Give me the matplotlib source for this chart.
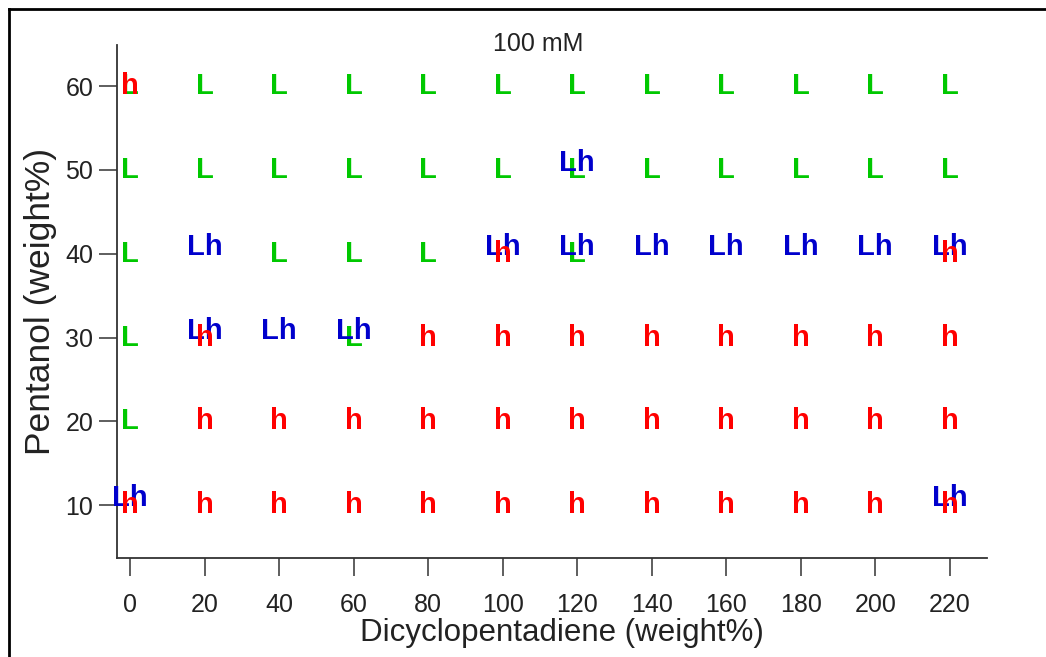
import matplotlib
matplotlib.use("Agg")
import matplotlib.pyplot as plt
from matplotlib.lines import Line2D

# phase map: L (green), h (red), Lh (blue)
x_ticks = [0, 20, 40, 60, 80, 100, 120, 140, 160, 180, 200, 220]
y_ticks = [10, 20, 30, 40, 50, 60]

L_x = x_ticks + x_ticks + [0, 40, 60, 80, 120] + [0, 60] + [0]
L_y = [60] * 12 + [50] * 12 + [40] * 5 + [30] * 2 + [20]

h_x = [0] + [100, 220] + [20, 80, 100, 120, 140, 160, 180, 200, 220] \
    + x_ticks[1:] + x_ticks
h_y = [60] + [40] * 2 + [30] * 9 + [20] * 11 + [10] * 12

Lh_x = [120] + [20, 100, 120, 140, 160, 180, 200, 220] + [20, 40, 60] + [0, 220]
Lh_y = [50] + [40] * 8 + [30] * 3 + [10] * 2

green = "#00c800"
red = "#ff0000"
blue = "#0000cc"

W, H = 1046, 657
fig = plt.figure(figsize=(W / 100, H / 100), dpi=100)
ax = fig.add_axes([117 / W, 1 - 558 / H, (987 - 117) / W, (558 - 45) / H])

mk = dict(fontsize=21, fontweight="bold", family="Liberation Sans",
          ha="center", va="center")
for x, y in zip(L_x, L_y):
  ax.text(x, y, "L", color=green, zorder=3, **mk)
for x, y in zip(Lh_x, Lh_y):
  ax.annotate("Lh", (x, y), xytext=(0, 5), textcoords="offset points",
              color=blue, zorder=4, **mk)
for x, y in zip(h_x, h_y):
  ax.text(x, y, "h", color=red, zorder=5, **mk)

ax.set_xlim(-3.5, 230)
ax.set_ylim(3.7, 64.9)
ax.set_xticks(x_ticks)
ax.set_yticks(y_ticks)

for s in ["top", "right"]:
  ax.spines[s].set_visible(False)
for s in ["left", "bottom"]:
  ax.spines[s].set_color("#333333")
  ax.spines[s].set_linewidth(1.3)

ax.tick_params(direction="out", length=13, width=1.1, color="#333333",
               labelcolor="#222222")
ax.tick_params(axis="x", pad=12)
ax.tick_params(axis="y", pad=4)
for lab in ax.get_xticklabels() + ax.get_yticklabels():
  lab.set_family("Liberation Sans")
  lab.set_fontsize(18)

ax.set_xlabel("Dicyclopentadiene (weight%)", fontsize=22.5,
              family="Liberation Sans", color="#222222")
ax.set_ylabel("Pentanol (weight%)", fontsize=25.5,
              family="Liberation Sans", color="#222222")
ax.xaxis.set_label_coords((562 - 117) / 870, (558 - 618) / 513)
ax.yaxis.set_label_coords((57 - 117) / 870, (558 - 301) / 513)

fig.text(538 / W, 1 - 44 / H, "100 mM", fontsize=18, family="Liberation Sans",
         ha="center", va="center", color="#222222")

# screenshot frame (left and top edges)
fig.add_artist(Line2D([9 / W, 9 / W], [0, 1 - 9 / H], color="black", lw=2))
fig.add_artist(Line2D([9 / W, 1], [1 - 9 / H, 1 - 9 / H], color="black", lw=2))

fig.savefig("out.png", dpi=100)
